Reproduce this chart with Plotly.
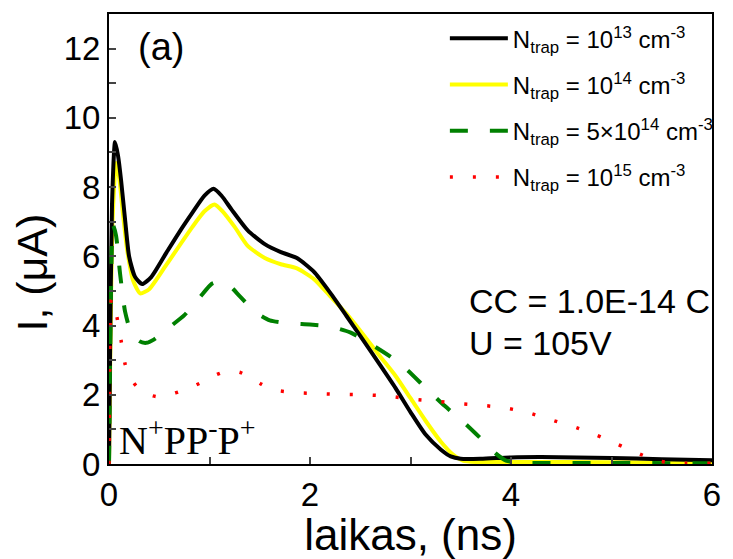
import plotly.graph_objects as go

# ---- data ----
t_black = [0, 0.01, 0.03, 0.06, 0.09, 0.12, 0.16, 0.2, 0.26, 0.33, 0.42, 0.57, 0.7, 0.83, 0.95, 1.04,
           1.12, 1.22, 1.38, 1.55, 1.71, 1.87, 2.04, 2.2, 2.36, 2.5, 2.7, 2.85, 3.0, 3.15, 3.3, 3.4,
           3.5, 3.7, 4.0, 4.3, 5.0, 5.5, 6.0]
I_black = [0, 3.0, 7.5, 9.3, 8.9, 8.2, 7.06, 6.0, 5.4, 5.2, 5.4, 6.1, 6.7, 7.26, 7.75, 7.95,
           7.75, 7.35, 6.75, 6.35, 6.12, 5.95, 5.55, 4.95, 4.29, 3.7, 2.85, 2.2, 1.5, 0.85, 0.42, 0.22,
           0.15, 0.15, 0.19, 0.2, 0.17, 0.14, 0.11]

t_yellow = [0, 0.01, 0.035, 0.07, 0.1, 0.14, 0.18, 0.24, 0.31, 0.4, 0.57, 0.83, 0.95, 1.05, 1.13,
            1.25, 1.38, 1.55, 1.71, 1.87, 2.04, 2.2, 2.36, 2.5, 2.7, 2.85, 3.0, 3.15, 3.3, 3.42,
            3.52, 3.65, 4.0, 5.0, 6.0]
I_yellow = [0, 2.5, 7.0, 8.7, 8.3, 7.2, 6.2, 5.3, 4.93, 5.05, 5.75, 6.85, 7.3, 7.5, 7.3,
            6.85, 6.3, 5.95, 5.77, 5.65, 5.34, 4.85, 4.35, 3.85, 3.1, 2.55, 1.9, 1.25, 0.65, 0.28,
            0.1, 0.06, 0.06, 0.05, 0.04]

t_green = [0, 0.015, 0.04, 0.07, 0.11, 0.16, 0.22, 0.3, 0.37, 0.45, 0.6, 0.75, 0.9, 1.02, 1.1,
           1.2, 1.3, 1.45, 1.6, 1.8, 2.0, 2.2, 2.4, 2.59, 2.8, 2.97, 3.15, 3.34, 3.55, 3.73,
           3.85, 3.95, 4.1, 5.0, 6.0]
I_green = [0, 4.0, 6.9, 6.6, 5.5, 4.4, 3.8, 3.55, 3.5, 3.6, 3.95, 4.3, 4.8, 5.2, 5.27,
           5.15, 4.85, 4.4, 4.15, 4.06, 4.03, 3.97, 3.8, 3.49, 3.1, 2.71, 2.2, 1.68, 1.15, 0.65,
           0.3, 0.1, 0.04, 0.03, 0.02]

t_red = [0, 0.01, 0.025, 0.05, 0.08, 0.12, 0.16, 0.21, 0.27, 0.38, 0.49, 0.6, 0.72, 0.85, 0.95,
         1.07, 1.18, 1.3, 1.41, 1.52, 1.64, 1.87, 2.1, 2.34, 2.54, 2.78, 3.02, 3.24, 3.46, 3.69,
         3.92, 4.15, 4.37, 4.6, 4.83, 5.06, 5.28, 5.45, 5.6, 6.0]
I_red = [0, 3.5, 4.75, 4.72, 4.23, 3.57, 2.89, 2.5, 2.26, 2.02, 1.94, 2.0, 2.11, 2.26, 2.4,
         2.58, 2.69, 2.65, 2.5, 2.3, 2.14, 2.06, 2.03, 2.01, 2.0, 1.96, 1.87, 1.82, 1.75, 1.7,
         1.63, 1.5, 1.3, 1.1, 0.86, 0.57, 0.29, 0.1, 0.03, 0.02]

names = ["N<sub>trap</sub> = 10<sup>13</sup> cm<sup>-3</sup>",
         "N<sub>trap</sub> = 10<sup>14</sup> cm<sup>-3</sup>",
         "N<sub>trap</sub> = 5×10<sup>14</sup> cm<sup>-3</sup>",
         "N<sub>trap</sub> = 10<sup>15</sup> cm<sup>-3</sup>"]

x_ticks = [0, 2, 4, 6]
y_ticks = [0, 2, 4, 6, 8, 10, 12]

FONT = "Arial, Liberation Sans, sans-serif"

fig = go.Figure()
styles = [
    dict(color="black", width=4),
    dict(color="#ffff00", width=4),
    dict(color="green", width=4, dash="18px,22px"),
    dict(color="red", width=3.5, dash="3px,20px"),
]
data = [(t_black, I_black), (t_yellow, I_yellow), (t_green, I_green), (t_red, I_red)]
order = [1, 0, 2, 3]  # yellow drawn under black
for i in order:
    tx, iy = data[i]
    fig.add_trace(go.Scatter(x=tx, y=iy, mode="lines", name=names[i],
                             legendgroup=f"g{i}", legendrank=i + 1,
                             line=dict(shape="spline", smoothing=0.6, **styles[i])))

fig.update_layout(
    width=733, height=559,
    margin=dict(l=109, r=12, t=13, b=92),
    paper_bgcolor="white", plot_bgcolor="white",
    font=dict(family=FONT, color="black"),
    showlegend=True,
    legend=dict(x=0.557, y=0.995, xanchor="left", yanchor="top",
                font=dict(size=24, family=FONT), bgcolor="rgba(0,0,0,0)",
                itemwidth=58, tracegroupgap=12),
    xaxis=dict(range=[0, 6], tickvals=x_ticks, ticks="inside", ticklen=7, tickwidth=1.5,
               minor=dict(dtick=1, ticks="inside", ticklen=7, tickwidth=1.5),
               showline=True, linecolor="black", linewidth=2, mirror=True,
               showgrid=False, zeroline=False,
               tickfont=dict(size=33, family=FONT),
               title=dict(text="laikas, (ns)", font=dict(size=44, family=FONT), standoff=4)),
    yaxis=dict(range=[0, 13], tickvals=y_ticks, ticks="inside", ticklen=7, tickwidth=1.5,
               minor=dict(dtick=1, ticks="inside", ticklen=7, tickwidth=1.5),
               showline=True, linecolor="black", linewidth=2, mirror=True,
               showgrid=False, zeroline=False,
               tickfont=dict(size=33, family=FONT)),
)

fig.add_annotation(x=-0.128, y=0.425, xref="paper", yref="paper", text="I, (μA)", textangle=-90,
                   showarrow=False, xanchor="center", yanchor="middle",
                   font=dict(size=43, family=FONT))
fig.add_annotation(x=0.52, y=12.06, xref="x", yref="y", text="(a)", showarrow=False,
                   font=dict(size=38, family=FONT))
fig.add_annotation(x=3.56, y=4.71, xref="x", yref="y", text="CC = 1.0E-14 C", showarrow=False,
                   xanchor="left", font=dict(size=34, family=FONT))
fig.add_annotation(x=3.56, y=3.49, xref="x", yref="y", text="U = 105V", showarrow=False,
                   xanchor="left", font=dict(size=34, family=FONT))
fig.add_annotation(x=0.08, y=0.77, xref="x", yref="y",
                   text="N<sup>+</sup>PP<sup>-</sup>P<sup>+</sup>", showarrow=False,
                   xanchor="left", font=dict(size=40, family="Times New Roman, Liberation Serif, serif"))

fig.write_html("out.html")
